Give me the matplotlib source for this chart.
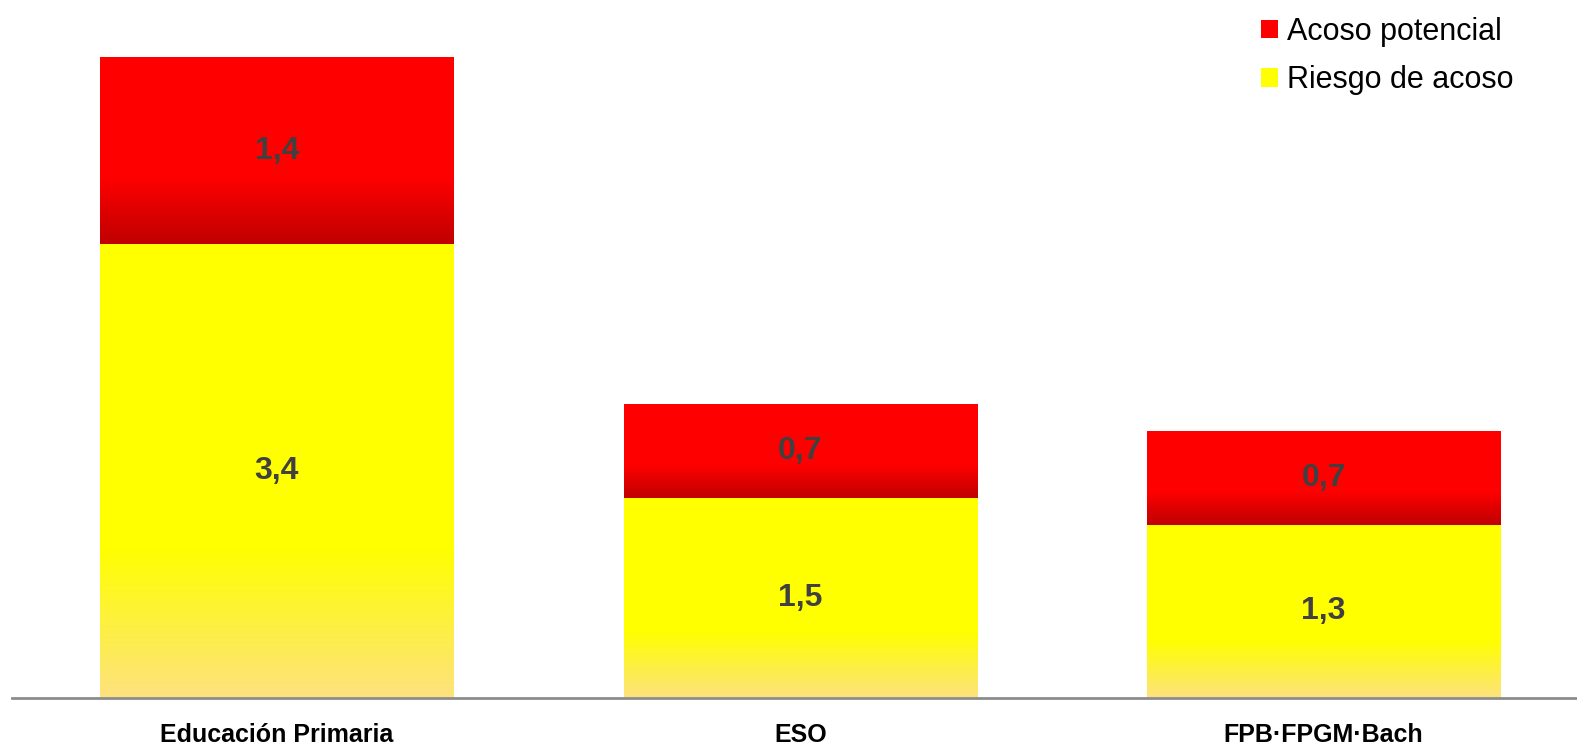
import numpy as np
import matplotlib.pyplot as plt
from matplotlib.colors import LinearSegmentedColormap

plt.rcParams['font.family'] = ['Liberation Sans', 'DejaVu Sans']

# data
categories = ['Educación Primaria', 'ESO', 'FPB·FPGM·Bach']
riesgo = [3.4, 1.5, 1.3]
acoso = [1.4, 0.7, 0.7]
riesgo_labels = ['3,4', '1,5', '1,3']
acoso_labels = ['1,4', '0,7', '0,7']

# gradients, bottom -> top
cmap_yellow = LinearSegmentedColormap.from_list(
    'yel', [(0.0, '#fde27e'), (0.33, '#ffff00'), (1.0, '#ffff00')])
cmap_red = LinearSegmentedColormap.from_list(
    'red', [(0.0, '#c00000'), (0.36, '#ff0000'), (1.0, '#ff0000')])

fig = plt.figure(figsize=(15.77, 7.46), dpi=100)
ax = fig.add_axes([12 / 1577, 48 / 746, 1 - 12 / 1577, 698 / 746])

x = np.arange(len(categories))
b1 = ax.bar(x, riesgo, width=0.675, color='#ffff00', label='Riesgo de acoso')
b2 = ax.bar(x, acoso, width=0.675, bottom=riesgo, color='#ff0000',
            label='Acoso potencial')

grad = np.linspace(0, 1, 256).reshape(-1, 1)
for bars, cmap in [(b1, cmap_yellow), (b2, cmap_red)]:
    for p in bars.patches:
        x0, y0 = p.get_x(), p.get_y()
        w, h = p.get_width(), p.get_height()
        im = ax.imshow(grad, cmap=cmap, origin='lower', aspect='auto',
                       extent=[x0, x0 + w, y0, y0 + h], zorder=p.get_zorder() + 0.1,
                       interpolation='bilinear')
        im.set_clip_path(p)

for i in range(len(categories)):
    ax.text(x[i], riesgo[i] / 2, riesgo_labels[i], ha='center', va='center',
            fontsize=23, fontweight='bold', color='#404040', zorder=5)
    ax.text(x[i], riesgo[i] + acoso[i] / 2, acoso_labels[i], ha='center',
            va='center', fontsize=23, fontweight='bold', color='#404040', zorder=5)

ax.set_xlim(-0.506, 2.484)
ax.set_ylim(0, 5.23)
ax.set_xticks(x)
ax.set_xticklabels(categories, fontsize=18, fontweight='bold')
ax.tick_params(axis='x', length=0, pad=18)
ax.set_yticks([])
for s in ['top', 'left', 'right']:
    ax.spines[s].set_visible(False)
ax.spines['bottom'].set_color('#8c8c8c')
ax.spines['bottom'].set_linewidth(2)

ax.legend(handles=[b2, b1], loc='upper right', bbox_to_anchor=(1530 / 1577, 1.0),
          bbox_transform=fig.transFigure, frameon=False, fontsize=22,
          handlelength=0.55, handleheight=0.55, handletextpad=0.3,
          labelspacing=0.6, borderaxespad=0.15)

fig.savefig('out.png', dpi=100)
